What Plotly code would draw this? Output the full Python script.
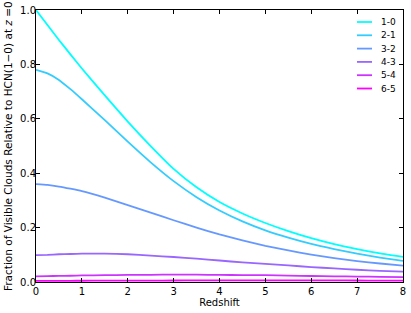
import plotly.graph_objects as go

redshift = [0, 0.25, 0.5, 0.75, 1, 1.5, 2, 2.5, 3, 3.5, 4, 4.5, 5, 5.5, 6, 6.5, 7, 7.5, 8]

frac_10 = [1.0, 0.945, 0.89, 0.837, 0.785, 0.686, 0.590, 0.500, 0.416, 0.348, 0.294, 0.252, 0.217, 0.187, 0.161, 0.139, 0.121, 0.105, 0.092]
frac_21 = [0.78, 0.767, 0.743, 0.709, 0.672, 0.595, 0.516, 0.44, 0.371, 0.312, 0.263, 0.223, 0.19, 0.163, 0.14, 0.121, 0.104, 0.09, 0.078]
frac_32 = [0.36, 0.357, 0.351, 0.343, 0.334, 0.310, 0.283, 0.255, 0.227, 0.20, 0.175, 0.153, 0.133, 0.116, 0.101, 0.088, 0.077, 0.068, 0.06]
frac_43 = [0.099, 0.10, 0.102, 0.103, 0.104, 0.104, 0.102, 0.097, 0.092, 0.086, 0.079, 0.072, 0.067, 0.061, 0.055, 0.05, 0.045, 0.041, 0.038]
frac_54 = [0.021, 0.0215, 0.0225, 0.023, 0.024, 0.025, 0.026, 0.0265, 0.027, 0.027, 0.026, 0.0255, 0.025, 0.0235, 0.022, 0.021, 0.020, 0.019, 0.018]
frac_65 = [0.004, 0.0042, 0.0043, 0.0045, 0.0046, 0.0048, 0.005, 0.0053, 0.0055, 0.0058, 0.006, 0.006, 0.006, 0.006, 0.006, 0.0058, 0.0055, 0.0052, 0.005]

labels = ["1-0", "2-1", "3-2", "4-3", "5-4", "6-5"]
series = [frac_10, frac_21, frac_32, frac_43, frac_54, frac_65]
colors = ["rgb(0,255,255)", "rgb(51,204,255)", "rgb(102,153,255)",
          "rgb(153,102,255)", "rgb(204,51,255)", "rgb(255,0,255)"]

W, H = 411, 313
L, R, T, B = 36, 8, 10, 31
pw, ph = W - L - R, H - T - B

fig = go.Figure()
for lab, vals, col in zip(labels, series, colors):
    fig.add_trace(go.Scatter(x=redshift, y=vals, name=lab, mode="lines", showlegend=False,
                             line=dict(color=col, width=1.8, shape="spline", smoothing=0.5)))

# compact legend (matplotlib style, no frame)
for i, (lab, col) in enumerate(zip(labels, colors)):
    py = 22 + 13.3 * i
    yp = (H - B - py) / ph
    x0 = (357 - L) / pw
    x1 = (372 - L) / pw
    fig.add_shape(type="line", xref="paper", yref="paper", x0=x0, x1=x1, y0=yp, y1=yp,
                  line=dict(color=col, width=1.8))
    fig.add_annotation(xref="paper", yref="paper", x=(379 - L) / pw, y=yp, text=lab,
                       showarrow=False, xanchor="left", yanchor="middle",
                       font=dict(size=9, color="black"))

# y-axis title as rotated annotation
fig.add_annotation(xref="paper", yref="paper", x=(8 - L) / pw, y=(H - B - 146) / ph,
                   text="Fraction of Visible Clouds Relative to HCN(1\u22120) at <i>z</i> =0",
                   textangle=-90, showarrow=False, xanchor="center", yanchor="middle",
                   font=dict(size=10.5, color="black"))

axis_common = dict(showgrid=False, zeroline=False, showline=True, linecolor="black",
                   linewidth=1, mirror="ticks", ticks="inside", ticklen=4,
                   tickcolor="black", tickfont=dict(size=10, color="black"),
                   automargin=False, ticklabeloverflow="allow")

fig.update_layout(
    width=W, height=H,
    margin=dict(l=L, r=R, t=T, b=B),
    paper_bgcolor="white", plot_bgcolor="white",
    font=dict(family="DejaVu Sans", color="black"),
    xaxis=dict(range=[0, 8.0001], tickvals=[0, 1, 2, 3, 4, 5, 6, 7, 8],
               ticklabelstandoff=0,
               title=dict(text="Redshift", font=dict(size=10), standoff=0), **axis_common),
    yaxis=dict(range=[0, 1.0001], tickvals=[0, 0.2, 0.4, 0.6, 0.8, 1.0], tickformat=".1f",
               ticklabelstandoff=-3, **axis_common),
    showlegend=False,
)

fig.write_html("out.html", post_script="document.body.style.margin='0px';",
               config={"displayModeBar": False})
